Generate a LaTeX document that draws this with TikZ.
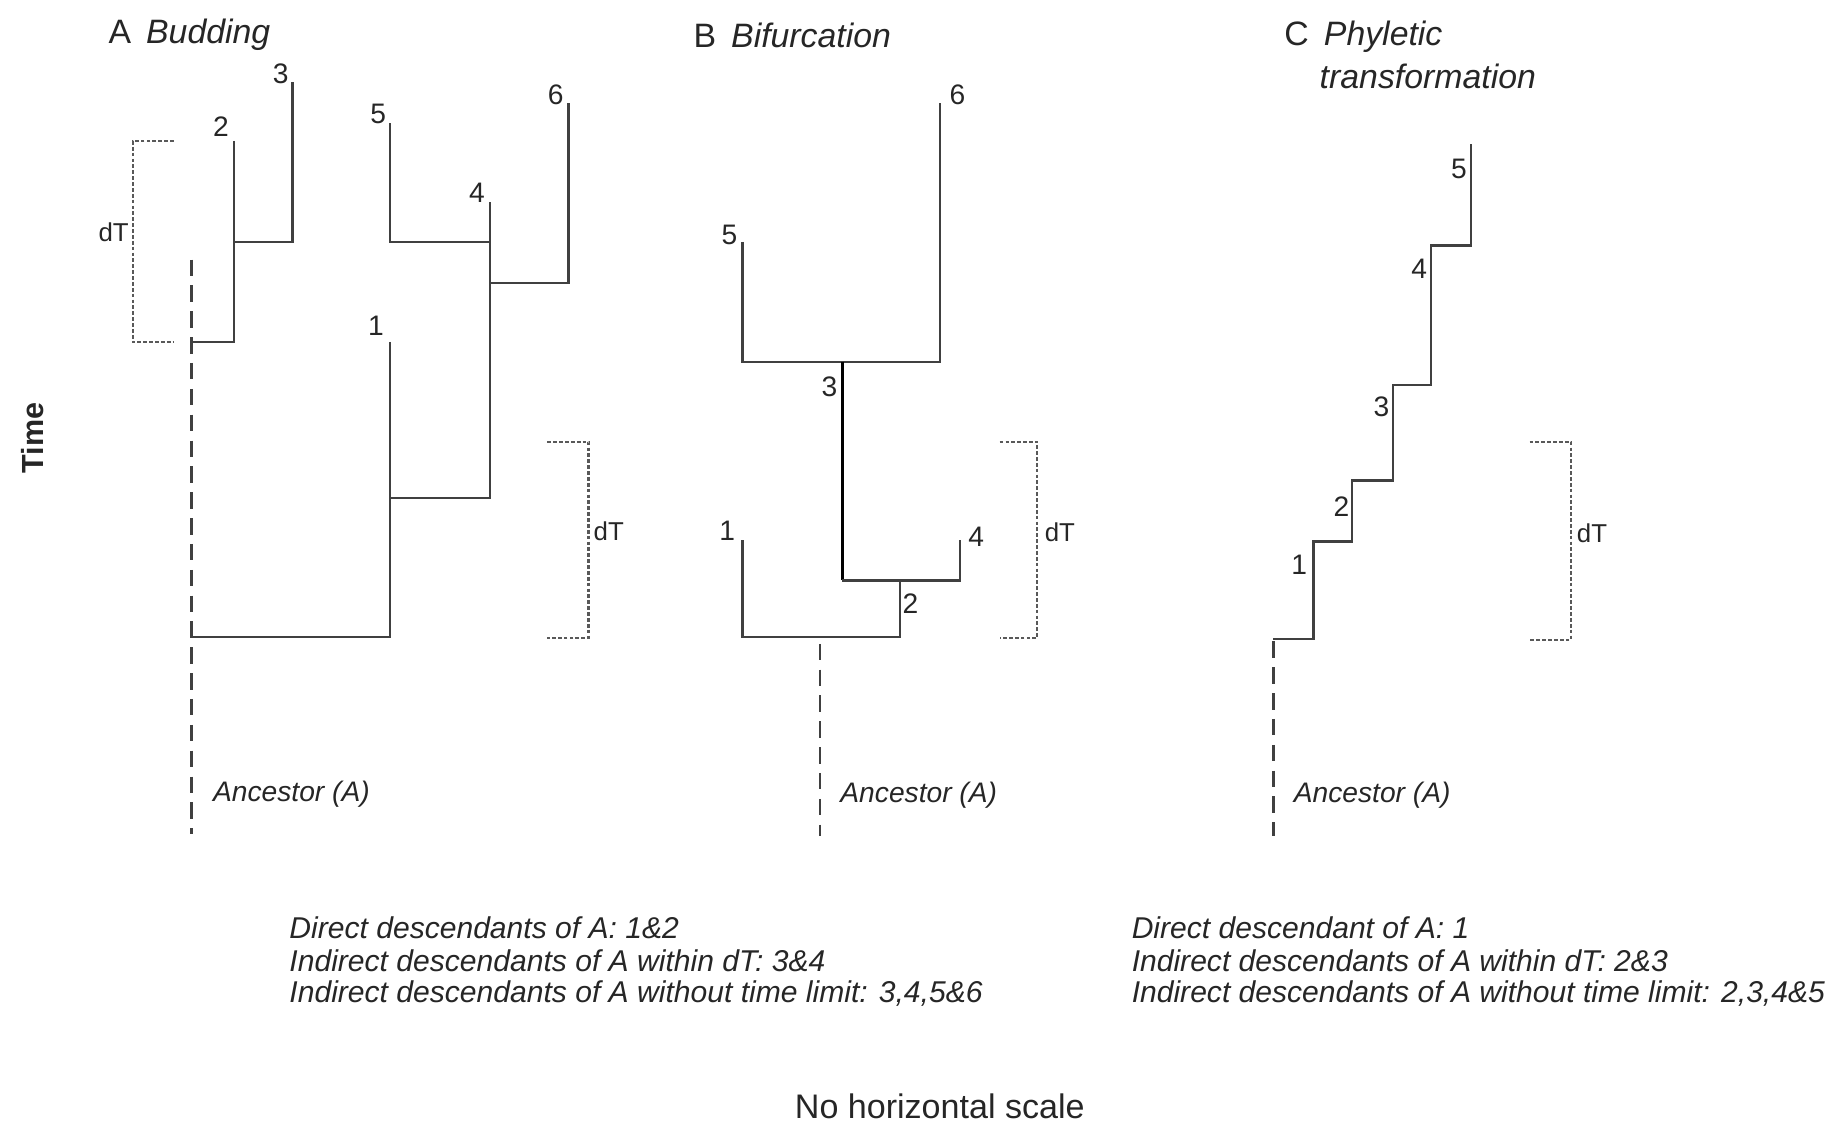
\documentclass[tikz,border=0pt]{standalone}
\usepackage{fontspec}
\setmainfont{Liberation Sans}
\begin{document}
\begin{tikzpicture}[x=0.5pt,y=-0.5pt,
  br/.style={line width=1pt,draw=black!75},
  brdark/.style={line width=1.2pt,draw=black},
  anc/.style={line width=1pt,draw=black!75,dash pattern=on 7pt off 4pt},
  brk/.style={line width=0.9pt,draw=black!65,dash pattern=on 1.6pt off 0.9pt},
  num/.style={font=\fontsize{12}{14}\selectfont,inner sep=0pt,text=black!85},
  ttl/.style={font=\fontsize{14.4}{16}\selectfont,inner sep=0pt,anchor=west,text=black!85},
  dtl/.style={font=\fontsize{11}{13}\selectfont,inner sep=0pt,text=black!85},
  ancl/.style={font=\fontsize{12}{14}\selectfont\itshape,inner sep=0pt,anchor=west,text=black!85},
  desc/.style={font=\fontsize{12.8}{15}\selectfont\itshape,inner sep=0pt,anchor=west,text=black!85}]
\useasboundingbox (0,0) rectangle (1568,957);

% ---------------- Panel A: Budding ----------------
\node[ttl] (tA) at (92,30) {A\, \textit{Budding}};
\coordinate (A3t) at (249,70);  \coordinate (A3b) at (249,206);
\coordinate (A2t) at (199,120); \coordinate (A2m) at (199,206); \coordinate (A2b) at (199,291);
\coordinate (Ad2) at (163,291); \coordinate (Adt) at (163,221); \coordinate (Adb) at (163,710);
\coordinate (Ad1) at (163,542);
\coordinate (A5t) at (332,105); \coordinate (A5b) at (332,206);
\coordinate (A4t) at (417,172); \coordinate (A4m) at (417,206); \coordinate (A4n) at (417,241);
\coordinate (A4b) at (417,424);
\coordinate (A6t) at (484,88);  \coordinate (A6b) at (484,241);
\coordinate (A1t) at (332,291); \coordinate (A1m) at (332,424); \coordinate (A1b) at (332,542);

\draw[br] (A3t) -- (A3b) -- (A2m);
\draw[br] (A2t) -- (A2b) -- (Ad2);
\draw[br] (A5t) -- (A5b) -- (A4m);
\draw[br] (A4t) -- (A4b) -- (A1m);
\draw[br] (A6t) -- (A6b) -- (A4n);
\draw[br] (A1t) -- (A1b) -- (Ad1);
\draw[anc] (Adt) -- (Adb);

\node[num] (lA3) at (239,63) {3};
\node[num] (lA2) at (188,108) {2};
\node[num] (lA5) at (322,97) {5};
\node[num] (lA4) at (406,164) {4};
\node[num] (lA6) at (473,81) {6};
\node[num] (lA1) at (320,277) {1};

\coordinate (AbL1) at (148,120); \coordinate (AbL2) at (113,120);
\coordinate (AbL3) at (113,291); \coordinate (AbL4) at (148,291);
\draw[brk] (AbL1) -- (AbL2) -- (AbL3) -- (AbL4);
\node[dtl,anchor=east] (dtA1) at (110,198) {dT};

\coordinate (AbR1) at (466,376); \coordinate (AbR2) at (501,376);
\coordinate (AbR3) at (501,543); \coordinate (AbR4) at (466,543);
\draw[brk] (AbR1) -- (AbR2) -- (AbR3) -- (AbR4);
\node[dtl,anchor=west] (dtA2) at (505,452) {dT};

\node[ancl] (ancA) at (181,676) {Ancestor (A)};

\node[font=\fontsize{13}{15}\selectfont\bfseries,rotate=90,inner sep=0pt,text=black!85] (time) at (28,373) {Time};

% ---------------- Panel B: Bifurcation ----------------
\node[ttl] (tB) at (590,30) {B\, \textit{Bifurcation}};
\coordinate (B6t) at (800,88);  \coordinate (B6b) at (800,308);
\coordinate (B5t) at (632,206); \coordinate (B5b) at (632,308);
\coordinate (B3t) at (717,308); \coordinate (B3b) at (717,494);
\coordinate (B4t) at (817,460); \coordinate (B4b) at (817,494);
\coordinate (B2t) at (766,494); \coordinate (B2b) at (766,542);
\coordinate (B1t) at (632,460); \coordinate (B1b) at (632,542);
\coordinate (Bdt) at (698,548); \coordinate (Bdb) at (698,712);

\draw[br] (B5t) -- (B5b) -- (B6b) -- (B6t);
\draw[brdark] (B3t) -- (B3b);
\draw[br] (B3b) -- (B4b) -- (B4t);
\draw[br] (B2t) -- (B2b) -- (B1b) -- (B1t);
\draw[anc] (Bdt) -- (Bdb);

\node[num] (lB6) at (815,81) {6};
\node[num] (lB5) at (621,200) {5};
\node[num] (lB3) at (706,329) {3};
\node[num] (lB4) at (831,457) {4};
\node[num] (lB2) at (775,514) {2};
\node[num] (lB1) at (619,452) {1};

\coordinate (Bb1) at (851,376); \coordinate (Bb2) at (883,376);
\coordinate (Bb3) at (883,543); \coordinate (Bb4) at (851,543);
\draw[brk] (Bb1) -- (Bb2) -- (Bb3) -- (Bb4);
\node[dtl,anchor=west] (dtB) at (889,453) {dT};

\node[ancl] (ancB) at (715,677) {Ancestor (A)};

% ---------------- Panel C: Phyletic transformation ----------------
\node[ttl] (tC1) at (1093,31) {C\, \textit{Phyletic}};
\node[ttl] (tC2) at (1123,65) {\textit{transformation}};
\coordinate (C0) at (1084,544);
\coordinate (C1a) at (1118,544); \coordinate (C1b) at (1118,461);
\coordinate (C2a) at (1151,461); \coordinate (C2b) at (1151,409);
\coordinate (C3a) at (1186,409); \coordinate (C3b) at (1186,328);
\coordinate (C4a) at (1218,328); \coordinate (C4b) at (1218,209);
\coordinate (C5a) at (1252,209); \coordinate (C5b) at (1252,123);
\coordinate (Cdt) at (1084,546); \coordinate (Cdb) at (1084,712);

\draw[br] (C0) -- (C1a) -- (C1b) -- (C2a) -- (C2b) -- (C3a) -- (C3b)
  -- (C4a) -- (C4b) -- (C5a) -- (C5b);
\draw[anc] (Cdt) -- (Cdb);

\node[num] (lC1) at (1106,481) {1};
\node[num] (lC2) at (1142,431) {2};
\node[num] (lC3) at (1176,346) {3};
\node[num] (lC4) at (1208,229) {4};
\node[num] (lC5) at (1242,144) {5};

\coordinate (Cb1) at (1302,376); \coordinate (Cb2) at (1337,376);
\coordinate (Cb3) at (1337,545); \coordinate (Cb4) at (1302,545);
\draw[brk] (Cb1) -- (Cb2) -- (Cb3) -- (Cb4);
\node[dtl,anchor=west] (dtC) at (1342,454) {dT};

\node[ancl] (ancC) at (1101,677) {Ancestor (A)};

% ---------------- Bottom texts ----------------
\node[desc] (dL1) at (246,790) {Direct descendants of A: 1\&2};
\node[desc] (dL2) at (246,818) {Indirect descendants of A within dT: 3\&4};
\node[desc] (dL3) at (246,846) {Indirect descendants of A without time limit: 3,4,5\&6};

\node[desc] (dR1) at (963,790) {Direct descendant of A: 1};
\node[desc] (dR2) at (963,818) {Indirect descendants of A within dT: 2\&3};
\node[desc] (dR3) at (963,846) {Indirect descendants of A without time limit: 2,3,4\&5};

\node[font=\fontsize{14.5}{17}\selectfont,inner sep=0pt,text=black!85] (nhs) at (800,942) {No horizontal scale};
\end{tikzpicture}
\end{document}
